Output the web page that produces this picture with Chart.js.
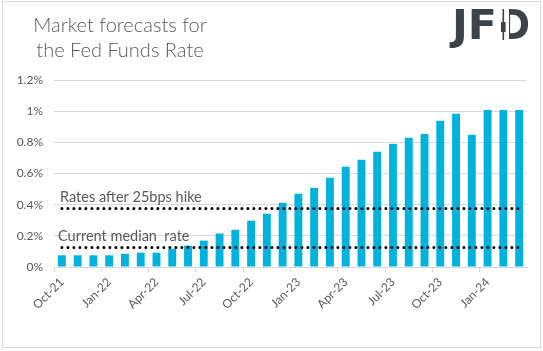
<!DOCTYPE html>
<html>
<head>
<meta charset="utf-8">
<script src="https://cdn.jsdelivr.net/npm/chart.js@4"></script>
<style>
  html, body { margin: 0; padding: 0; background: #fff; }
  body { width: 543px; height: 351px; position: relative; overflow: hidden; font-family: Lato, "Open Sans", sans-serif; }
  #frame { position: absolute; left: 2px; top: 1px; width: 537px; height: 345px; border: 1px solid #d9d9d9; }
  #title { position: absolute; left: 0; top: 12px; width: 240px; text-align: center; font-size: 20px; font-weight: 300; line-height: 25px; color: #595959; }
  #logo { position: absolute; left: 0; top: 0; }
  #wrap { position: absolute; left: 0; top: 0; width: 543px; height: 351px; }
</style>
</head>
<body>
<div id="frame"></div>
<div id="wrap"><canvas id="c" width="543" height="351"></canvas></div>
<div id="title">Market forecasts for<br>the Fed Funds Rate</div>
<svg id="logo" width="543" height="60">
  <text x="452" y="39" font-family="DejaVu Sans" font-weight="bold" font-size="41" fill="#3d4247" textLength="45" lengthAdjust="spacingAndGlyphs">JF</text>
  <text x="500" y="39" font-family="DejaVu Sans" font-weight="bold" font-size="41" fill="#3d4247" textLength="30" lengthAdjust="spacingAndGlyphs">D</text>
  <rect x="499" y="8" width="10" height="33" fill="#fff"/>
  <rect x="502.5" y="9" width="1.6" height="31" fill="#3d4247"/>
  <rect x="501" y="22" width="4.6" height="10" fill="#3d4247"/>
</svg>
<script>
const categories = ["Oct-21","Nov-21","Dec-21","Jan-22","Feb-22","Mar-22","Apr-22","May-22","Jun-22","Jul-22","Aug-22","Sep-22","Oct-22","Nov-22","Dec-22","Jan-23","Feb-23","Mar-23","Apr-23","May-23","Jun-23","Jul-23","Aug-23","Sep-23","Oct-23","Nov-23","Dec-23","Jan-24","Feb-24","Mar-24"];
const forecastRate = [0.075,0.075,0.075,0.075,0.085,0.092,0.092,0.117,0.137,0.169,0.215,0.239,0.297,0.342,0.412,0.470,0.508,0.572,0.643,0.688,0.739,0.790,0.829,0.854,0.938,0.983,0.848,1.008,1.008,1.008];
const currentMedianRate = 0.125;
const rateAfterHike = 0.375;
const yTicks = [0, 0.2, 0.4, 0.6, 0.8, 1.0, 1.2];
const annotationTexts = ["Rates after 25bps hike", "Current median  rate"];

const gray = "#595959";
const labelPlugin = {
  id: 'refLabels',
  afterDatasetsDraw(chart) {
    const {ctx, chartArea, scales} = chart;
    ctx.save();
    ctx.fillStyle = gray;
    ctx.font = '14.5px Lato, "Open Sans", sans-serif';
    ctx.textBaseline = 'alphabetic';
    ctx.textAlign = 'left';
    ctx.fillText(annotationTexts[0], chartArea.left + 6, scales.y.getPixelForValue(rateAfterHike) - 7);
    ctx.fillText(annotationTexts[1], chartArea.left + 4, scales.y.getPixelForValue(currentMedianRate) - 7);
    ctx.restore();
  }
};

const flat = v => categories.map(() => v);
new Chart(document.getElementById('c'), {
  type: 'bar',
  data: {
    labels: categories,
    datasets: [
      { type: 'line', data: flat(rateAfterHike), borderColor: '#000', borderWidth: 3, borderDash: [0, 6], borderCapStyle: 'round', pointRadius: 0, fill: false, order: 1 },
      { type: 'line', data: flat(currentMedianRate), borderColor: '#000', borderWidth: 3, borderDash: [0, 6], borderCapStyle: 'round', pointRadius: 0, fill: false, order: 1 },
      { type: 'bar', data: forecastRate, backgroundColor: '#00b2dc', categoryPercentage: 1, barPercentage: 0.5, order: 2 }
    ]
  },
  options: {
    responsive: false,
    animation: false,
    events: [],
    layout: { padding: { top: 80, right: 16, left: 0, bottom: 0 } },
    plugins: { legend: { display: false }, tooltip: { enabled: false }, title: { display: false } },
    scales: {
      x: {
        offset: true,
        grid: {
          offset: true,
          drawOnChartArea: false,
          drawTicks: true,
          tickLength: 5,
          color: c => (c.index % 3 === 0 ? '#d9d9d9' : 'rgba(0,0,0,0)'),
        },
        border: { display: true, color: '#d9d9d9', width: 1 },
        ticks: {
          autoSkip: false,
          minRotation: 45,
          maxRotation: 45,
          color: gray,
          font: { family: 'Lato, "Open Sans", sans-serif', size: 12 },
          padding: 3,
          callback: function(v, i) { return i % 3 === 0 ? categories[i] : ''; }
        },
        afterFit: s => { s.height = 84; }
      },
      y: {
        min: 0, max: 1.2,
        afterBuildTicks: s => { s.ticks = yTicks.map(v => ({ value: v })); },
        grid: { color: '#d9d9d9', drawTicks: false, lineWidth: 1 },
        border: { display: false },
        ticks: {
          color: gray,
          padding: 11,
          font: { family: 'Lato, "Open Sans", sans-serif', size: 12 },
          callback: v => (+v.toFixed(1)) + '%'
        },
        afterFit: s => { s.width = 54; }
      }
    }
  },
  plugins: [labelPlugin]
});
</script>
</body>
</html>
